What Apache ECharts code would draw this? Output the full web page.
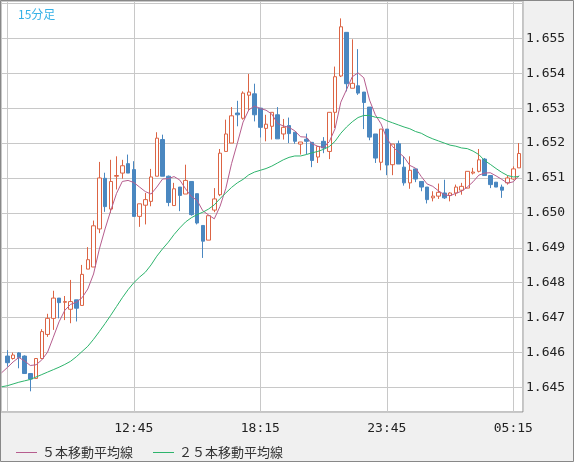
<!DOCTYPE html>
<html>
<head>
<meta charset="utf-8">
<script src="https://cdn.jsdelivr.net/npm/echarts@6/dist/echarts.min.js"></script>
<style>
    html, body { margin: 0; padding: 0; background: #f0f0f0; }
    #main { width: 574px; height: 462px; }
</style>
</head>
<body>
<div id="main"></div>
<script>
// 15分足 07:15 ～ 05:30 (index 0 = 07:15)
const tickIndex = [22, 44, 66, 88];
const tickLabels = ['12:45', '18:15', '23:45', '05:15'];

const opens = [
    1.64590, 1.64583, 1.64599, 1.64590, 1.64540, 1.64526, 1.64583, 1.64652, 1.64698, 1.64756,
    1.64744, 1.64724, 1.64751, 1.64735, 1.64839, 1.64845, 1.64954, 1.65099, 1.65011, 1.65105,
    1.65114, 1.65141, 1.65124, 1.64990, 1.65022, 1.65033, 1.65105, 1.65210, 1.65105, 1.65021,
    1.65074, 1.65054, 1.65090, 1.65055, 1.64964, 1.64922, 1.65008, 1.65052, 1.65176, 1.65200,
    1.65286, 1.65271, 1.65337, 1.65341, 1.65300, 1.65242, 1.65248, 1.65281, 1.65226, 1.65250,
    1.65231, 1.65197, 1.65211, 1.65202, 1.65160, 1.65205, 1.65176, 1.65288, 1.65392, 1.65517,
    1.65357, 1.65364, 1.65346, 1.65303, 1.65226, 1.65145, 1.65240, 1.65138, 1.65198, 1.65131,
    1.65086, 1.65126, 1.65090, 1.65074, 1.65043, 1.65048, 1.65057, 1.65050, 1.65057, 1.65065,
    1.65071, 1.65114, 1.65119, 1.65154, 1.65107, 1.65088, 1.65074, 1.65086, 1.65097, 1.65129
];
const closes = [
    1.64571, 1.64593, 1.64586, 1.64540, 1.64524, 1.64583, 1.64660, 1.64698, 1.64756, 1.64743,
    1.64746, 1.64746, 1.64727, 1.64824, 1.64866, 1.64963, 1.65100, 1.65018, 1.65090, 1.65107,
    1.65135, 1.65114, 1.64990, 1.65026, 1.65038, 1.65103, 1.65214, 1.65105, 1.65030, 1.65069,
    1.65050, 1.65093, 1.64995, 1.64971, 1.64919, 1.64992, 1.65040, 1.65171, 1.65226, 1.65278,
    1.65281, 1.65343, 1.65346, 1.65281, 1.65245, 1.65254, 1.65288, 1.65212, 1.65245, 1.65227,
    1.65205, 1.65203, 1.65205, 1.65150, 1.65190, 1.65186, 1.65288, 1.65390, 1.65533, 1.65370,
    1.65371, 1.65343, 1.65316, 1.65217, 1.65157, 1.65240, 1.65137, 1.65197, 1.65140, 1.65086,
    1.65122, 1.65097, 1.65074, 1.65038, 1.65048, 1.65059, 1.65043, 1.65057, 1.65074, 1.65076,
    1.65119, 1.65117, 1.65152, 1.65107, 1.65081, 1.65074, 1.65065, 1.65100, 1.65126, 1.65170
];
const lows = [
    1.64560, 1.64580, 1.64555, 1.64540, 1.64489, 1.64526, 1.64583, 1.64645, 1.64665, 1.64698,
    1.64693, 1.64684, 1.64689, 1.64735, 1.64839, 1.64845, 1.64942, 1.65003, 1.65000, 1.65067,
    1.65098, 1.65114, 1.64990, 1.64960, 1.64967, 1.65019, 1.65105, 1.65105, 1.65019, 1.65021,
    1.65005, 1.65054, 1.64992, 1.64967, 1.64871, 1.64922, 1.65002, 1.65048, 1.65176, 1.65200,
    1.65248, 1.65267, 1.65295, 1.65262, 1.65216, 1.65205, 1.65210, 1.65212, 1.65210, 1.65200,
    1.65198, 1.65167, 1.65168, 1.65131, 1.65143, 1.65171, 1.65154, 1.65243, 1.65389, 1.65348,
    1.65357, 1.65338, 1.65240, 1.65208, 1.65143, 1.65122, 1.65108, 1.65108, 1.65140, 1.65078,
    1.65069, 1.65088, 1.65062, 1.65027, 1.65033, 1.65040, 1.65040, 1.65033, 1.65048, 1.65052,
    1.65071, 1.65110, 1.65116, 1.65107, 1.65071, 1.65074, 1.65043, 1.65081, 1.65095, 1.65129
];
const highs = [
    1.64607, 1.64600, 1.64601, 1.64592, 1.64540, 1.64583, 1.64667, 1.64711, 1.64777, 1.64756,
    1.64762, 1.64808, 1.64751, 1.64851, 1.64902, 1.64978, 1.65146, 1.65115, 1.65152, 1.65162,
    1.65152, 1.65167, 1.65148, 1.65026, 1.65057, 1.65126, 1.65231, 1.65224, 1.65107, 1.65086,
    1.65074, 1.65138, 1.65090, 1.65055, 1.64964, 1.64992, 1.65071, 1.65183, 1.65267, 1.65303,
    1.65321, 1.65348, 1.65398, 1.65370, 1.65300, 1.65281, 1.65288, 1.65303, 1.65269, 1.65273,
    1.65231, 1.65203, 1.65227, 1.65202, 1.65190, 1.65217, 1.65288, 1.65419, 1.65557, 1.65517,
    1.65497, 1.65469, 1.65346, 1.65303, 1.65226, 1.65240, 1.65240, 1.65197, 1.65207, 1.65162,
    1.65162, 1.65126, 1.65090, 1.65074, 1.65062, 1.65084, 1.65095, 1.65059, 1.65081, 1.65086,
    1.65119, 1.65129, 1.65183, 1.65157, 1.65107, 1.65088, 1.65081, 1.65107, 1.65133, 1.65200
];

// 移動平均線 (first value = the bar before 07:15)
const ma5 = [
    1.64542,
    1.64557, 1.64573, 1.64586, 1.64576, 1.64563, 1.64565, 1.64579, 1.64601, 1.64644, 1.64688,
    1.64721, 1.64738, 1.64744, 1.64757, 1.64782, 1.64825, 1.64896, 1.64954, 1.65007, 1.65056,
    1.65090, 1.65093, 1.65087, 1.65074, 1.65061, 1.65054, 1.65074, 1.65097, 1.65098, 1.65104,
    1.65094, 1.65069, 1.65047, 1.65036, 1.65006, 1.64994, 1.64983, 1.65019, 1.65070, 1.65141,
    1.65199, 1.65260, 1.65295, 1.65306, 1.65299, 1.65294, 1.65283, 1.65256, 1.65249, 1.65245,
    1.65235, 1.65218, 1.65217, 1.65198, 1.65191, 1.65187, 1.65204, 1.65241, 1.65317, 1.65353,
    1.65390, 1.65401, 1.65387, 1.65323, 1.65281, 1.65255, 1.65213, 1.65190, 1.65174, 1.65160,
    1.65136, 1.65128, 1.65104, 1.65083, 1.65076, 1.65063, 1.65052, 1.65049, 1.65056, 1.65062,
    1.65074, 1.65089, 1.65108, 1.65114, 1.65115, 1.65106, 1.65096, 1.65085, 1.65089, 1.65107
];
const ma25 = [
    1.64502,
    1.64505, 1.64510, 1.64515, 1.64519, 1.64523, 1.64530, 1.64537, 1.64544, 1.64551, 1.64558,
    1.64566, 1.64575, 1.64588, 1.64603, 1.64618, 1.64638, 1.64660, 1.64683, 1.64707, 1.64732,
    1.64757, 1.64780, 1.64800, 1.64816, 1.64830, 1.64851, 1.64876, 1.64897, 1.64916, 1.64938,
    1.64957, 1.64974, 1.64986, 1.64995, 1.65002, 1.65011, 1.65023, 1.65041, 1.65057, 1.65073,
    1.65086, 1.65096, 1.65109, 1.65117, 1.65122, 1.65127, 1.65134, 1.65143, 1.65152, 1.65159,
    1.65163, 1.65163, 1.65167, 1.65172, 1.65176, 1.65182, 1.65190, 1.65205, 1.65228, 1.65246,
    1.65261, 1.65273, 1.65279, 1.65279, 1.65274, 1.65272, 1.65264, 1.65258, 1.65252, 1.65246,
    1.65241, 1.65233, 1.65228, 1.65219, 1.65212, 1.65206, 1.65200, 1.65194, 1.65191, 1.65186,
    1.65184, 1.65177, 1.65167, 1.65150, 1.65139, 1.65127, 1.65116, 1.65107, 1.65103, 1.65104
];

const upColor = '#dc6444';
const downColor = '#4a87c0';
const ma5Color = '#b65d8e';
const ma25Color = '#2db46c';
const monoFont = '"DejaVu Sans Mono", "Liberation Mono", monospace';
const jpFont = '"Noto Sans CJK JP", "Noto Sans", sans-serif';

const candles = opens.map((o, i) => [i, o, closes[i], lows[i], highs[i]]);
const toLine = arr => arr.map((v, i) => [i - 1, v]);

const chart = echarts.init(document.getElementById('main'), null, { renderer: 'canvas' });

chart.setOption({
    animation: false,
    backgroundColor: '#f0f0f0',
    title: {
        text: '15分足',
        left: 13,
        top: 3,
        textStyle: { fontSize: 12, fontWeight: 'normal', color: '#35b1e6', fontFamily: jpFont }
    },
    legend: {
        left: 16,
        top: 446,
        padding: 0,
        icon: 'rect',
        itemWidth: 21,
        itemHeight: 1,
        itemGap: 20,
        textStyle: { fontSize: 13, color: '#333', fontFamily: jpFont },
        data: ['５本移動平均線', '２５本移動平均線']
    },
    grid: {
        left: 1,
        top: 1,
        right: 51,
        bottom: 50,
        show: true,
        backgroundColor: '#fff',
        borderColor: '#888',
        borderWidth: 1,
        containLabel: false,
        outerBoundsMode: 'none'
    },
    xAxis: {
        type: 'value',
        min: -1.0957,
        max: 89.687,
        splitNumber: 4,
        minInterval: 22,
        maxInterval: 22,
        axisLine: { show: false },
        axisTick: { show: false },
        splitLine: { show: true, lineStyle: { color: '#c8c8c8', width: 1 } },
        axisLabel: {
            showMinLabel: false,
            showMaxLabel: false,
            margin: 10,
            fontSize: 13,
            color: '#222',
            fontFamily: monoFont,
            formatter: v => {
                const k = tickIndex.indexOf(Math.round(v));
                return Math.abs(v - Math.round(v)) < 1e-6 && k >= 0 ? tickLabels[k] : '';
            }
        }
    },
    yAxis: {
        type: 'value',
        position: 'right',
        scale: true,
        min: 1.644298,
        max: 1.656068,
        splitNumber: 12,
        minInterval: 0.001,
        maxInterval: 0.001,
        axisLine: { show: false },
        axisTick: { show: false },
        splitLine: { show: true, lineStyle: { color: '#c8c8c8', width: 1 } },
        axisLabel: {
            showMinLabel: false,
            showMaxLabel: false,
            margin: 3,
            fontSize: 13,
            color: '#222',
            fontFamily: monoFont,
            formatter: v => (v > 1.6449 && v < 1.6551) ? v.toFixed(3) : ''
        }
    },
    graphic: [{
        type: 'rect',
        z: 100,
        silent: true,
        shape: { x: 0.5, y: 0.5, width: 573, height: 461 },
        style: { fill: null, stroke: '#888', lineWidth: 1 }
    }],
    series: [
        {
            name: '15分足',
            type: 'candlestick',
            data: candles,
            barWidth: 4,
            itemStyle: {
                color: '#fff',
                color0: downColor,
                borderColor: upColor,
                borderColor0: downColor,
                borderWidth: 1
            }
        },
        {
            name: '５本移動平均線',
            type: 'line',
            data: toLine(ma5),
            showSymbol: false,
            lineStyle: { color: ma5Color, width: 1 },
            itemStyle: { color: ma5Color }
        },
        {
            name: '２５本移動平均線',
            type: 'line',
            data: toLine(ma25),
            showSymbol: false,
            lineStyle: { color: ma25Color, width: 1 },
            itemStyle: { color: ma25Color }
        }
    ]
});
</script>
</body>
</html>
